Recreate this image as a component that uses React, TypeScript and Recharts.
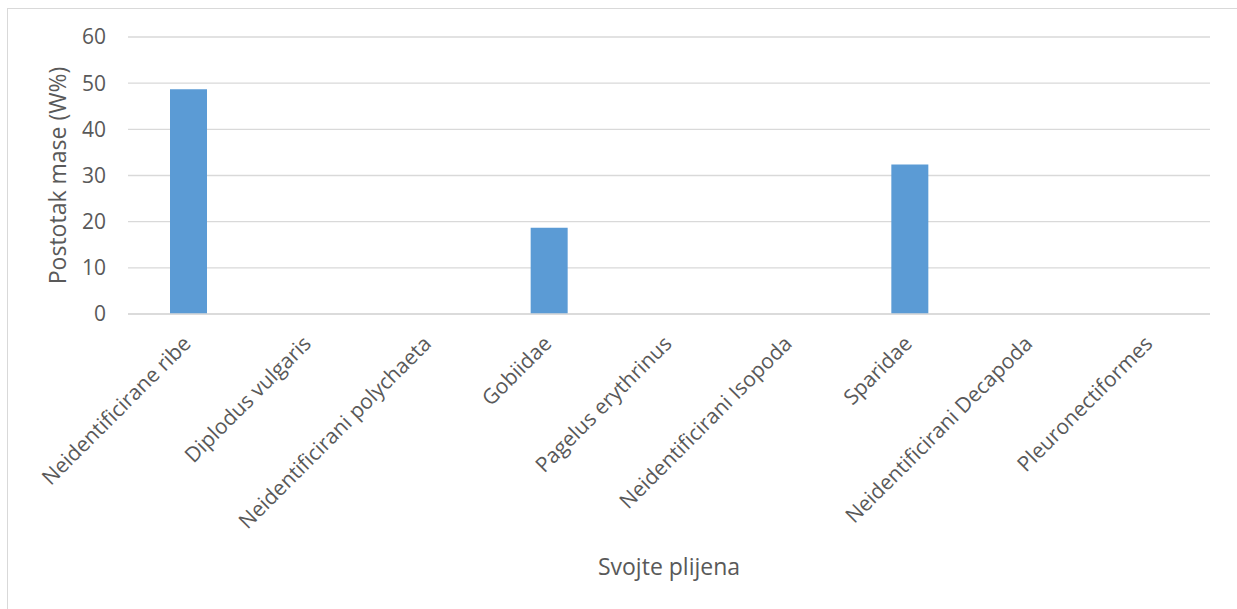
import { BarChart, Bar, XAxis, YAxis, CartesianGrid, Label } from 'recharts';

const categories = [
    'Neidentificirane ribe',
    'Diplodus vulgaris',
    'Neidentificirani polychaeta',
    'Gobiidae',
    'Pagelus erythrinus',
    'Neidentificirani Isopoda',
    'Sparidae',
    'Neidentificirani Decapoda',
    'Pleuronectiformes'
];
const weightPercent = [48.7, 0, 0, 18.7, 0, 0, 32.4, 0, 0];
const yTicks = [0, 10, 20, 30, 40, 50, 60];

const data = categories.map((name, i) => ({ name, value: weightPercent[i] }));

const FONT = '"Open Sans", sans-serif';
const TEXT = '#595959';

function SlantTick({ x, y, payload }: any) {
    const tx = x + 4;
    const ty = y + 31;
    return (
        <text
            x={tx}
            y={ty}
            transform={`rotate(-45, ${tx}, ${ty})`}
            textAnchor="end"
            fontSize={21}
            fontFamily={FONT}
            fill={TEXT}
        >
            {payload.value}
        </text>
    );
}

function App() {
    return (
        <div style={{ position: 'fixed', inset: 0, overflow: 'hidden', background: '#fff' }}>
            <div style={{
                position: 'absolute',
                left: 7,
                top: 8,
                width: 1260,
                height: 640,
                border: '1px solid #d9d9d9',
                boxSizing: 'border-box'
            }} />
            <div style={{ position: 'absolute', left: 8, top: 8 }}>
                <BarChart
                    width={1221}
                    height={593}
                    data={data}
                    margin={{ top: 29, right: 19, bottom: 0, left: 0 }}
                >
                    <CartesianGrid vertical={false} stroke="#d9d9d9" strokeWidth={1.3} />
                    <XAxis
                        dataKey="name"
                        interval={0}
                        height={287}
                        tickLine={false}
                        tickSize={0}
                        tickMargin={0}
                        axisLine={{ stroke: '#d9d9d9', strokeWidth: 1.3 }}
                        tick={<SlantTick />}
                    >
                        <Label
                            value="Svojte plijena"
                            position="insideBottom"
                            offset={26}
                            style={{ fontSize: 23, fontFamily: FONT, fill: TEXT }}
                        />
                    </XAxis>
                    <YAxis
                        width={120}
                        domain={[0, 60]}
                        ticks={yTicks}
                        axisLine={false}
                        tickLine={false}
                        tickSize={0}
                        tickMargin={22}
                        tick={{ fontSize: 21, fontFamily: FONT, fill: TEXT }}
                    >
                        <Label
                            content={({ viewBox }: any) => {
                                const cx = viewBox.x + 49;
                                const cy = viewBox.y + viewBox.height / 2;
                                return (
                                    <text
                                        x={cx}
                                        y={cy}
                                        transform={`rotate(-90, ${cx}, ${cy})`}
                                        textAnchor="middle"
                                        dominantBaseline="central"
                                        fontSize={23}
                                        fontFamily={FONT}
                                        fill={TEXT}
                                    >
                                        Postotak mase (W%)
                                    </text>
                                );
                            }}
                        />
                    </YAxis>
                    <Bar dataKey="value" fill="#5b9bd5" barSize={37} isAnimationActive={false} />
                </BarChart>
            </div>
        </div>
    );
}

export default App;
